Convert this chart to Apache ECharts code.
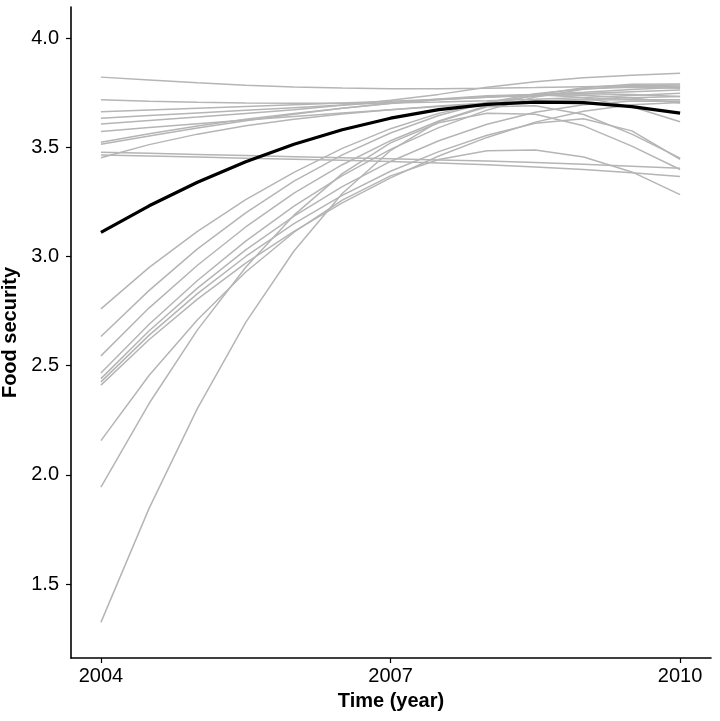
<!DOCTYPE html>
<html>
<head>
<meta charset="utf-8">
<script src="https://cdn.jsdelivr.net/npm/echarts@6/dist/echarts.min.js"></script>
<style>html,body{margin:0;padding:0;background:#fff;}#chart{width:720px;height:721px;}</style>
</head>
<body>
<div id="chart"></div>
<script>
// time points (years, half-year steps)
const years = [2004, 2004.5, 2005, 2005.5, 2006, 2006.5, 2007, 2007.5, 2008, 2008.5, 2009, 2009.5, 2010];
const xTicks = [2004, 2007, 2010];
const yTicks = [1.5, 2.0, 2.5, 3.0, 3.5, 4.0];

// average trajectory
const meanCurve = [3.110, 3.232, 3.340, 3.434, 3.514, 3.580, 3.633, 3.672, 3.696, 3.707, 3.704, 3.686, 3.656];

// individual trajectories (grey)
const t01 = [3.821, 3.808, 3.795, 3.784, 3.776, 3.771, 3.768, 3.768, 3.770, 3.773, 3.777, 3.781, 3.785];
const t02 = [3.717, 3.711, 3.706, 3.703, 3.701, 3.701, 3.703, 3.707, 3.713, 3.720, 3.728, 3.737, 3.747];
const t03 = [3.663, 3.671, 3.679, 3.687, 3.695, 3.703, 3.711, 3.720, 3.729, 3.738, 3.746, 3.754, 3.762];
const t04 = [3.633, 3.645, 3.657, 3.669, 3.681, 3.693, 3.705, 3.717, 3.729, 3.741, 3.752, 3.764, 3.775];
const t05 = [3.606, 3.622, 3.638, 3.655, 3.672, 3.692, 3.715, 3.742, 3.775, 3.800, 3.818, 3.830, 3.839];
const t06 = [3.572, 3.590, 3.608, 3.625, 3.641, 3.657, 3.672, 3.686, 3.699, 3.711, 3.720, 3.727, 3.732];
const t07 = [3.523, 3.562, 3.597, 3.628, 3.655, 3.679, 3.700, 3.718, 3.732, 3.740, 3.738, 3.725, 3.702];
const t08 = [3.514, 3.552, 3.588, 3.621, 3.651, 3.678, 3.701, 3.721, 3.736, 3.742, 3.728, 3.685, 3.617];
const t09 = [3.452, 3.512, 3.560, 3.598, 3.628, 3.652, 3.672, 3.689, 3.702, 3.711, 3.716, 3.718, 3.717];
const t10 = [3.477, 3.472, 3.467, 3.462, 3.457, 3.452, 3.447, 3.442, 3.437, 3.430, 3.422, 3.413, 3.404];
const t11 = [3.465, 3.460, 3.455, 3.450, 3.445, 3.440, 3.435, 3.428, 3.420, 3.410, 3.398, 3.383, 3.366];
const r01 = [2.760, 2.950, 3.115, 3.260, 3.385, 3.495, 3.585, 3.655, 3.705, 3.735, 3.745, 3.742, 3.732];
const r02 = [2.634, 2.845, 3.035, 3.200, 3.345, 3.465, 3.565, 3.645, 3.705, 3.745, 3.768, 3.775, 3.770];
const r03 = [2.545, 2.765, 2.960, 3.135, 3.290, 3.420, 3.530, 3.620, 3.690, 3.740, 3.772, 3.788, 3.790];
const r04 = [2.467, 2.690, 2.890, 3.070, 3.230, 3.370, 3.490, 3.590, 3.670, 3.730, 3.765, 3.780, 3.778];
const r05 = [2.441, 2.660, 2.855, 3.030, 3.185, 3.320, 3.435, 3.530, 3.605, 3.660, 3.695, 3.712, 3.710];
const r06 = [2.426, 2.640, 2.830, 3.000, 3.150, 3.280, 3.390, 3.480, 3.555, 3.610, 3.630, 3.575, 3.445];
const r07 = [2.411, 2.620, 2.805, 2.970, 3.115, 3.245, 3.360, 3.460, 3.545, 3.615, 3.665, 3.695, 3.705];
const r08 = [2.157, 2.456, 2.710, 2.929, 3.111, 3.258, 3.369, 3.444, 3.484, 3.487, 3.455, 3.387, 3.283];
const r09 = [1.944, 2.328, 2.664, 2.951, 3.189, 3.379, 3.520, 3.612, 3.656, 3.651, 3.598, 3.505, 3.398];
const r10 = [1.325, 1.848, 2.305, 2.698, 3.025, 3.288, 3.485, 3.618, 3.685, 3.690, 3.650, 3.560, 3.450];

const greyLines = [t01, t02, t03, t04, t05, t06, t07, t08, t09, t10, t11,
                   r01, r02, r03, r04, r05, r06, r07, r08, r09, r10];

const FONT = "'Liberation Sans', Arial, Helvetica, sans-serif";
const pairs = vals => vals.map((v, i) => [years[i], v]);

const series = greyLines.map(vals => ({
  type: 'line', data: pairs(vals), symbol: 'none', silent: true,
  lineStyle: { color: '#b5b5b5', width: 1.5 }, z: 2
}));
series.push({
  type: 'line', data: pairs(meanCurve), symbol: 'none', silent: true,
  lineStyle: { color: '#000000', width: 3.2 }, z: 5
});

const chart = echarts.init(document.getElementById('chart'), null, { renderer: 'canvas' });
chart.setOption({
  animation: false,
  backgroundColor: '#ffffff',
  grid: { left: 71, right: 9, top: 7, bottom: 63, containLabel: false, outerBoundsMode: 'none' },
  xAxis: {
    type: 'value', min: 2003.69, max: 2010.32,
    name: 'Time (year)', nameLocation: 'middle', nameGap: 33,
    nameTextStyle: { fontFamily: FONT, fontWeight: 'bold', fontSize: 20, color: '#000' },
    axisLine: { show: true, onZero: false, lineStyle: { color: '#000', width: 1.6 } },
    axisTick: { show: true, length: 5, customValues: xTicks, lineStyle: { color: '#000', width: 1.2 } },
    axisLabel: { customValues: xTicks, margin: 8, fontFamily: FONT, fontSize: 20, color: '#000',
                 formatter: v => String(Math.round(v)) },
    splitLine: { show: false }
  },
  yAxis: {
    type: 'value', min: 1.162, max: 4.142,
    name: 'Food security', nameLocation: 'middle', nameGap: 40, nameRotate: 90,
    nameTextStyle: { fontFamily: FONT, fontWeight: 'bold', fontSize: 20, color: '#000' },
    axisLine: { show: true, onZero: false, lineStyle: { color: '#000', width: 1.6 } },
    axisTick: { show: true, length: 5, customValues: yTicks, lineStyle: { color: '#000', width: 1.2 } },
    axisLabel: { customValues: yTicks, margin: 12, fontFamily: FONT, fontSize: 20, color: '#000',
                 formatter: v => v.toFixed(1) },
    splitLine: { show: false }
  },
  series: series
});
</script>
</body>
</html>
